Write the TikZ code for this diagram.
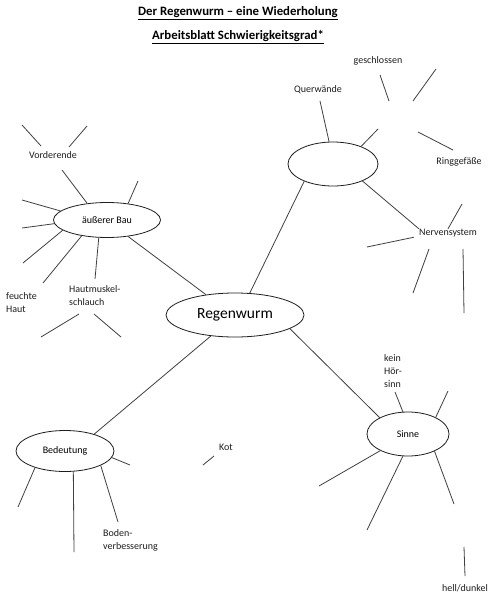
\documentclass[tikz,border=0pt]{standalone}
\usepackage{fontspec}
\setmainfont{Carlito}
\usetikzlibrary{shapes.geometric}
\definecolor{ink}{RGB}{30,30,30}
\tikzset{
  bubble/.style={ellipse,draw=ink,line width=0.8pt,inner sep=0pt,
    font=\fontsize{10}{12}\selectfont},
  spoke/.style={draw=ink!85,line width=0.8pt},
  tag/.style={font=\fontsize{10}{13}\selectfont,text=ink,inner sep=0pt,align=left},
  headline/.style={font=\bfseries\fontsize{12.8}{14}\selectfont,inner sep=0pt},
}
\begin{document}
\begin{tikzpicture}[x=1pt,y=-1pt]
  \fill[white] (0,0) rectangle (492,597);
  \useasboundingbox (0,0) rectangle (492,597);
  % title
  \node[headline] (title) at (238,13) {\underline{Der Regenwurm -- eine Wiederholung}};
  \node[headline] (grad) at (238,37) {\underline{Arbeitsblatt Schwierigkeitsgrad*}};
  % ellipses
  \node[bubble,minimum width=138pt,minimum height=44pt,font=\fontsize{15.5}{17}\selectfont] (rw) at (235,315) {Regenwurm};
  \node[bubble,minimum width=107pt,minimum height=35pt] (bau) at (107,220) {äußerer Bau};
  \node[bubble,minimum width=90pt,minimum height=44pt] (kreis) at (333,164) {};
  \node[bubble,minimum width=82pt,minimum height=44pt] (sinne) at (408,434) {Sinne};
  \node[bubble,minimum width=98pt,minimum height=41pt] (bed) at (65,451) {Bedeutung};
  % labels
  \node[tag] (vorder) at (53,155) {Vorderende};
  \node[tag,anchor=west] (haut) at (6,302.5) {feuchte\\Haut};
  \node[tag,anchor=west] (muskel) at (69,295.5) {Hautmuskel-\\schlauch};
  \node[tag] (quer) at (318,90) {Querwände};
  \node[tag] (geschl) at (378,61) {geschlossen};
  \node[tag] (ring) at (459,162) {Ringgefäße};
  \node[tag] (nerv) at (448,233) {Nervensystem};
  \node[tag,anchor=west] (hoer) at (384,371) {kein\\Hör-\\sinn};
  \node[tag] (kot) at (226,447) {Kot};
  \node[tag,anchor=west] (boden) at (103,540) {Boden-\\verbesserung};
  \node[tag] (hell) at (465,588) {hell/dunkel};
  % main connectors
  \draw[spoke] (rw.145) -- (bau.-38);
  \draw[spoke] (rw.56) -- (kreis.211);
  \draw[spoke] (rw.-14) -- (sinne.150);
  \draw[spoke] (rw.221) -- (bed.30);
  % spokes of the outer ellipses
  \draw[spoke] (bau.140) -- (62,170) (bau.38) -- (138,181)
    (bau.169) -- (22,200) (bau.184) -- (22,228) (bau.193) -- (23,263)
    (bau.212) -- (43,283) (bau.245) -- (95,279);
  \draw[spoke] (kreis.100) -- (320,101) (kreis.32) -- (378,129)
    (kreis.-30) -- (nerv.north west);
  \draw[spoke] (sinne.103) -- (395,392) (sinne.31) -- (448,391)
    (sinne.211) -- (319,486) (sinne.257) -- (367,530) (sinne.-33) -- (454,504);
  \draw[spoke] (bed.-8) -- (130,465) (bed.-22) -- (118,522)
    (bed.209) -- (18,507) (bed.-68) -- (74,552);
  \draw[spoke] (nerv.north) -- (462,204)
    ([xshift=-5pt]nerv.south west) -- (367,247);
  % loose strokes
  \foreach \a/\b in {{22,125}/{41,146},{87,126}/{69,147},{41,337}/{79,314},
      {94,314}/{121,337},{380,75}/{389,101},{436,69}/{413,101},
      {418,132}/{453,150},{429,249}/{413,293},{463,249}/{464,313},
      {214,456}/{203,465},{464,547}/{465,576}}
    \draw[spoke] (\a) -- (\b);
\end{tikzpicture}
\end{document}
